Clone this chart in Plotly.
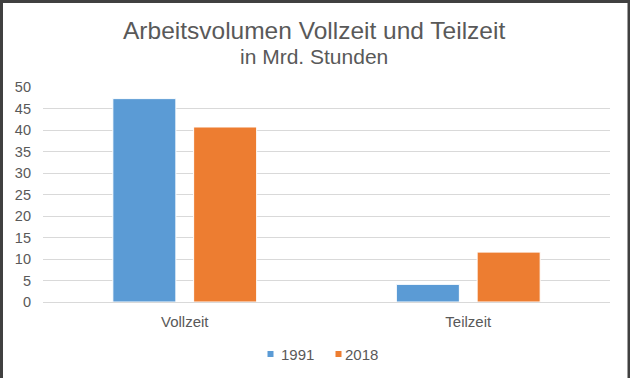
import plotly.graph_objects as go

categories = ["Vollzeit", "Teilzeit"]
series_names = ["1991", "2018"]
values_1991 = [47.3, 4.1]
values_2018 = [40.7, 11.6]
colors = ["#5B9BD5", "#ED7D31"]
y_ticks = [0, 5, 10, 15, 20, 25, 30, 35, 40, 45, 50]

W, H = 630, 378
ml, mr, mt, mb = 43, 20, 87, 76
pw, ph = W - ml - mr, H - mt - mb

def px_x(p):
    return (p - ml) / pw

def px_y(p):
    return (H - mb - p) / ph

fig = go.Figure()
for name, vals, col in zip(series_names, [values_1991, values_2018], colors):
    fig.add_trace(go.Bar(
        x=categories, y=vals, name=name, showlegend=False,
        marker=dict(color=col, line=dict(color="white", width=1)),
    ))

font_fam = "Liberation Sans, Arial, sans-serif"
text_col = "#595959"
fig.update_layout(
    width=W, height=H,
    margin=dict(l=ml, r=mr, t=mt, b=mb),
    paper_bgcolor="white", plot_bgcolor="white",
    barmode="group", bargap=0.43, bargroupgap=0.22,
    font=dict(family=font_fam, color=text_col, size=14.5),
    showlegend=False,
    xaxis=dict(showgrid=False, showline=False, ticks="", tickfont=dict(size=15, color=text_col),
               ticklabelstandoff=9),
    yaxis=dict(range=[0, 50], tickvals=y_ticks, showgrid=True, gridcolor="#D9D9D9",
               gridwidth=1, zeroline=True, zerolinecolor="#D9D9D9", zerolinewidth=1,
               showline=False, ticks="", ticklabelstandoff=11,
               tickfont=dict(size=14.5, color=text_col)),
)

fig.add_annotation(text="Arbeitsvolumen Vollzeit und Teilzeit", xref="paper", yref="paper",
                   x=px_x(314), y=px_y(30), xanchor="center", yanchor="middle",
                   showarrow=False, font=dict(size=24.5, color=text_col, family=font_fam))
fig.add_annotation(text="in Mrd. Stunden", xref="paper", yref="paper",
                   x=px_x(314), y=px_y(57), xanchor="center", yanchor="middle",
                   showarrow=False, font=dict(size=21, color=text_col, family=font_fam))

# legend (manual, compact like the original)
legend_sq_x = [270.5, 338.5]
legend_txt_x = [279, 343]
legend_y = 354
for name, col, sx, tx in zip(series_names, colors, legend_sq_x, legend_txt_x):
    fig.add_shape(type="rect", xref="paper", yref="paper",
                  x0=px_x(sx - 3), x1=px_x(sx + 3), y0=px_y(legend_y - 3), y1=px_y(legend_y + 3),
                  line=dict(width=0), fillcolor=col)
    fig.add_annotation(text=name, xref="paper", yref="paper", x=px_x(tx), y=px_y(legend_y),
                       xanchor="left", yanchor="middle", showarrow=False,
                       font=dict(size=15, color=text_col, family=font_fam))

# outer frame (left, right, top)
fig.add_shape(type="rect", xref="paper", yref="paper",
              x0=px_x(0), x1=px_x(3), y0=px_y(H + 5), y1=px_y(-5),
              line=dict(width=0), fillcolor="#404040")
fig.add_shape(type="rect", xref="paper", yref="paper",
              x0=px_x(627.5), x1=px_x(630), y0=px_y(H + 5), y1=px_y(-5),
              line=dict(width=0), fillcolor="#404040")
fig.add_shape(type="rect", xref="paper", yref="paper",
              x0=px_x(-5), x1=px_x(W + 5), y0=px_y(3), y1=px_y(-5),
              line=dict(width=0), fillcolor="#404040")

fig.write_html("out.html", config={"displayModeBar": False},
               post_script="document.body.style.margin='0';document.body.style.overflow='hidden';"
                           "var d=document.querySelector('.plotly-graph-div');"
                           "if(d){d.style.boxShadow='inset 0 3px 0 0 #404040';}")
